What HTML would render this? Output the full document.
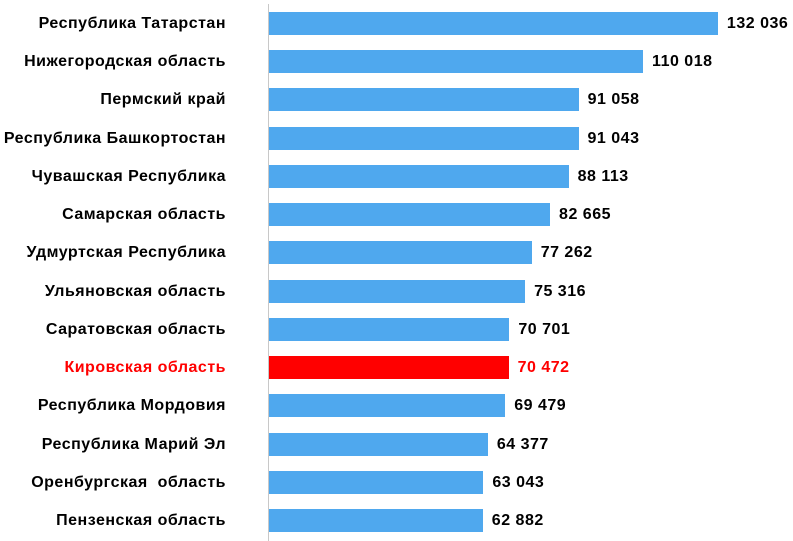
<!DOCTYPE html><html><head><meta charset="utf-8"><style>
body{margin:0;width:793px;height:541px;background:#fff;overflow:hidden;font-family:"Liberation Sans",sans-serif;font-weight:bold;font-size:16px;letter-spacing:0.5px}
.r{position:absolute;left:0;height:23px;width:793px}
.l{position:absolute;right:567px;top:0;line-height:23px;white-space:nowrap;color:#000}
.b{position:absolute;left:269px;top:0;height:23px;background:#4FA8EE}
.v{position:absolute;top:0;line-height:23px;white-space:nowrap;color:#000}
.ax{position:absolute;left:268px;top:4px;width:1px;height:537px;background:#c8c8c8}
</style></head><body><div class="ax"></div>
<script>
var d=[["Республика Татарстан",132036,"132 036"],["Нижегородская область",110018,"110 018"],["Пермский край",91058,"91 058"],["Республика Башкортостан",91043,"91 043"],["Чувашская Республика",88113,"88 113"],["Самарская область",82665,"82 665"],["Удмуртская Республика",77262,"77 262"],["Ульяновская область",75316,"75 316"],["Саратовская область",70701,"70 701"],["Кировская область",70472,"70 472"],["Республика Мордовия",69479,"69 479"],["Республика Марий Эл",64377,"64 377"],["Оренбургская&nbsp; область",63043,"63 043"],["Пензенская область",62882,"62 882"]];
d.forEach(function(x,i){var top=12+i*38.23,w=x[1]*0.0034,red=i==9;
document.write('<div class="r" style="top:'+top+'px"><div class="l" style="'+(red?'color:#f00':'')+'">'+x[0]+'</div><div class="b" style="width:'+w+'px;'+(red?'background:#f00':'')+'"></div><div class="v" style="left:'+(269+w+9)+'px;'+(red?'color:#f00':'')+'">'+x[2]+'</div></div>');});
</script></body></html>
